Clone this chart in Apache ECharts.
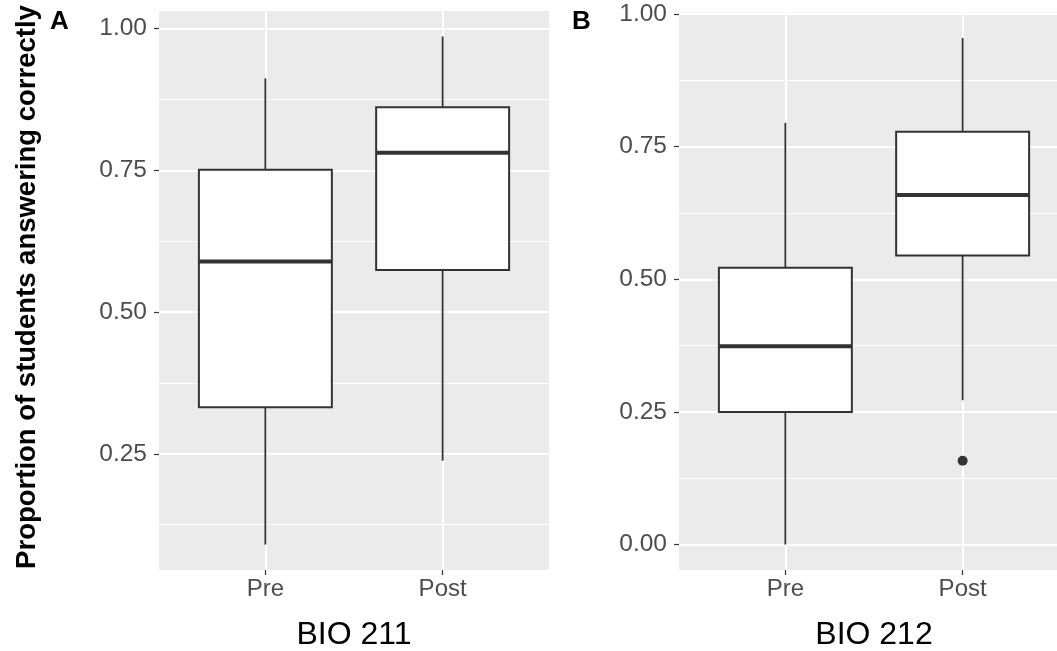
<!DOCTYPE html>
<html><head><meta charset="utf-8">
<script src="https://cdn.jsdelivr.net/npm/echarts@6/dist/echarts.min.js"></script>
<style>html,body{margin:0;padding:0;background:#fff}#c{width:1057px;height:651px}</style>
</head><body><div id="c"></div>
<script>
// ---- data ----
const categories = ['Pre', 'Post'];
// [lower whisker, Q1, median, Q3, upper whisker]
const bio211Pre  = [0.090, 0.332, 0.589, 0.751, 0.912];
const bio211Post = [0.238, 0.574, 0.781, 0.861, 0.986];
const bio212Pre  = [0.000, 0.250, 0.374, 0.522, 0.795];
const bio212Post = [0.272, 0.545, 0.659, 0.778, 0.955];
const bio212Outliers = [['Post', 0.158]];
const yTicksA = [0.25, 0.50, 0.75, 1.00];
const yTicksB = [0.00, 0.25, 0.50, 0.75, 1.00];
const yMinor = [0.125, 0.375, 0.625, 0.875];
const panelTitles = ['BIO 211', 'BIO 212'];
const panelTags = ['A', 'B'];
const yTitle = 'Proportion of students answering correctly';

// ---- helpers ----
const FONT = 'Liberation Sans, Arial, sans-serif';
const DARK = '#333333';
const catPos = c => categories.indexOf(c) + 1;
function boxRows(pre, post) { return [[1].concat(pre), [2].concat(post)]; }

function renderBox(params, api) {
  const x = api.value(0);
  const lo = api.value(1), q1 = api.value(2), med = api.value(3), q3 = api.value(4), hi = api.value(5);
  const half = 0.375;
  const tl = api.coord([x - half, q3]);
  const br = api.coord([x + half, q1]);
  const cHi = api.coord([x, hi]), cQ3 = api.coord([x, q3]);
  const cQ1 = api.coord([x, q1]), cLo = api.coord([x, lo]);
  const mL = api.coord([x - half, med]), mR = api.coord([x + half, med]);
  const ls = { stroke: DARK, lineWidth: 1.8 };
  return {
    type: 'group',
    children: [
      { type: 'line', shape: { x1: cHi[0], y1: cHi[1], x2: cQ3[0], y2: cQ3[1] }, style: ls },
      { type: 'line', shape: { x1: cQ1[0], y1: cQ1[1], x2: cLo[0], y2: cLo[1] }, style: ls },
      { type: 'rect', shape: { x: tl[0], y: tl[1], width: br[0] - tl[0], height: br[1] - tl[1] },
        style: { fill: '#ffffff', stroke: DARK, lineWidth: 2 } },
      { type: 'line', shape: { x1: mL[0], y1: mL[1], x2: mR[0], y2: mR[1] },
        style: { stroke: DARK, lineWidth: 4 } }
    ]
  };
}

const grids = [
  { left: 159, top: 11, width: 390, height: 559, show: true, backgroundColor: '#EBEBEB', borderWidth: 0,
    containLabel: false, outerBoundsMode: 'none' },
  { left: 679, top: 12.5, width: 390, height: 557.5, show: true, backgroundColor: '#EBEBEB', borderWidth: 0,
    containLabel: false, outerBoundsMode: 'none' }
];

function xAxisFor(gi) {
  return {
    type: 'value', gridIndex: gi, min: 0.4, max: 2.6, position: 'bottom',
    axisLine: { show: false, onZero: false },
    axisTick: { show: true, length: 5, customValues: [1, 2], lineStyle: { color: DARK, width: 1.2 } },
    axisLabel: { customValues: [1, 2], formatter: v => categories[Math.round(v) - 1],
      fontSize: 24, color: '#4D4D4D', fontFamily: FONT, margin: 7 },
    splitLine: { show: true, lineStyle: { color: '#ffffff', width: 2 } }
  };
}
function yAxisFor(gi, min, max, ticks) {
  return {
    type: 'value', gridIndex: gi, min: min, max: max, position: 'left',
    axisLine: { show: false, onZero: false },
    axisTick: { show: true, length: 5, customValues: ticks, lineStyle: { color: DARK, width: 1.2 } },
    axisLabel: { customValues: ticks, formatter: v => v.toFixed(2),
      fontSize: 24.5, color: '#4D4D4D', fontFamily: FONT, margin: 12 },
    splitLine: { show: true, lineStyle: { color: '#ffffff', width: 2 } }
  };
}
function yMinorFor(gi, min, max) {
  return {
    type: 'value', gridIndex: gi, min: min, max: max, position: 'left',
    axisLine: { show: false, onZero: false },
    axisTick: { show: false, customValues: yMinor },
    axisLabel: { show: false, customValues: yMinor },
    splitLine: { show: true, lineStyle: { color: '#ffffff', width: 1 } }
  };
}

const option = {
  backgroundColor: '#ffffff',
  animation: false,
  grid: grids,
  xAxis: [xAxisFor(0), xAxisFor(1)],
  yAxis: [
    yMinorFor(0, 0.0452, 1.0308),
    yAxisFor(0, 0.0452, 1.0308, yTicksA),
    yMinorFor(1, -0.048, 1.003),
    yAxisFor(1, -0.048, 1.003, yTicksB)
  ],
  series: [
    { type: 'custom', xAxisIndex: 0, yAxisIndex: 1, renderItem: renderBox,
      encode: { x: 0, y: [1, 2, 3, 4, 5] }, data: boxRows(bio211Pre, bio211Post), z: 5 },
    { type: 'custom', xAxisIndex: 1, yAxisIndex: 3, renderItem: renderBox,
      encode: { x: 0, y: [1, 2, 3, 4, 5] }, data: boxRows(bio212Pre, bio212Post), z: 5 },
    { type: 'scatter', xAxisIndex: 1, yAxisIndex: 3, symbol: 'circle', symbolSize: 10,
      itemStyle: { color: DARK, opacity: 1 }, data: bio212Outliers.map(o => [catPos(o[0]), o[1]]), z: 6 }
  ],
  graphic: [
    { type: 'text', x: 27, y: 287, rotation: Math.PI / 2,
      style: { text: yTitle, font: 'bold 27.5px ' + FONT, fill: '#000', textAlign: 'center', textVerticalAlign: 'middle' } },
    { type: 'text', x: 50, y: 22,
      style: { text: panelTags[0], font: 'bold 26px ' + FONT, fill: '#000', textAlign: 'left', textVerticalAlign: 'middle' } },
    { type: 'text', x: 572, y: 22,
      style: { text: panelTags[1], font: 'bold 26px ' + FONT, fill: '#000', textAlign: 'left', textVerticalAlign: 'middle' } },
    { type: 'text', x: 354, y: 635,
      style: { text: panelTitles[0], font: '32px ' + FONT, fill: '#000', textAlign: 'center', textVerticalAlign: 'middle' } },
    { type: 'text', x: 874, y: 635,
      style: { text: panelTitles[1], font: '32px ' + FONT, fill: '#000', textAlign: 'center', textVerticalAlign: 'middle' } }
  ]
};
echarts.init(document.getElementById('c'), null, { renderer: 'canvas' }).setOption(option);
</script>
</body></html>
